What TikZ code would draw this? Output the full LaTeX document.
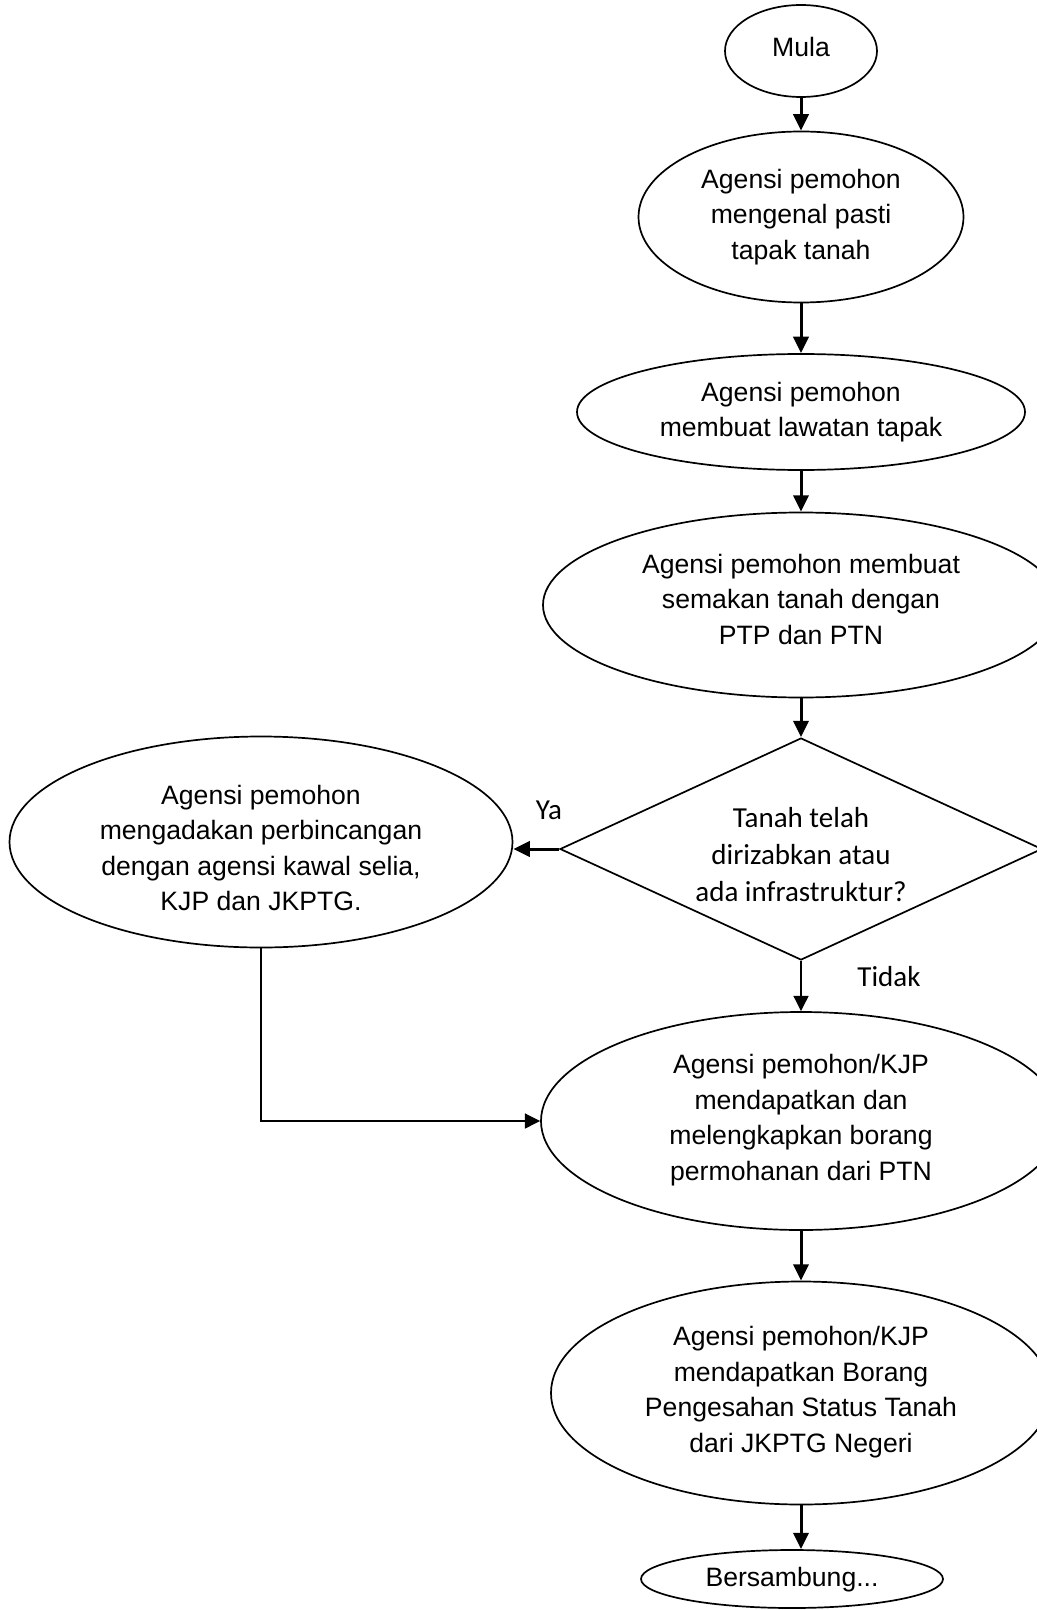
\documentclass[tikz,border=0pt]{standalone}
\usepackage{fontspec}
\setmainfont{Liberation Sans}
\newfontfamily\calfont{Carlito}
\usetikzlibrary{shapes.geometric,arrows.meta}
\begin{document}
\begin{tikzpicture}[x=0.5pt,y=-0.5pt,
  ell/.style={draw,ellipse,line width=0.85pt,inner sep=0pt},
  dia/.style={draw,diamond,line width=0.85pt,inner sep=0pt},
  txt/.style={align=center,font=\fontsize{13.3}{17.75}\selectfont,inner sep=0pt},
  ctxt/.style={align=center,font=\calfont\fontsize{14.5}{18.5}\selectfont,inner sep=0pt},
  arr/.style={line width=1.5pt,-{Triangle[length=8.2pt,width=7.6pt]}},
  thinarr/.style={line width=1pt,-{Triangle[length=7.6pt,width=7.4pt]}},
]
\useasboundingbox (0,0) rectangle (1037,1610);
\clip (0,0) rectangle (1037,1610);
\fill[white] (0,0) rectangle (1037,1610);

\node[ell,minimum width=76pt,minimum height=46pt] (mula) at (801,51) {};
\node[txt] (mulat) at (801,47) {Mula};

\node[ell,minimum width=162.5pt,minimum height=85.5pt] (e1) at (801,217) {};
\node[txt] (e1t) at (801,217) {Agensi pemohon\\mengenal pasti\\tapak tanah};

\node[ell,minimum width=224pt,minimum height=58pt] (e2) at (801,412) {};
\node[txt] (e2t) at (801,412) {Agensi pemohon\\membuat lawatan tapak};

\node[ell,minimum width=258pt,minimum height=92.5pt] (e3) at (801,605) {};
\node[txt] (e3t) at (801,599) {Agensi pemohon membuat\\semakan tanah dengan\\PTP dan PTN};

\node[dia,minimum width=241pt,minimum height=111pt] (d) at (801,849) {};
\node[ctxt] (dt) at (801,855) {Tanah telah\\dirizabkan atau\\ada infrastruktur?};

\node[ell,minimum width=251.5pt,minimum height=105.5pt] (L) at (261,842) {};
\node[txt] (Lt) at (261,848) {Agensi pemohon\\mengadakan perbincangan\\dengan agensi kawal selia,\\KJP dan JKPTG.};

\node[ell,minimum width=260pt,minimum height=109pt] (e4) at (801,1121) {};
\node[txt] (e4t) at (801,1120) {Agensi pemohon/KJP\\mendapatkan dan\\melengkapkan borang\\permohanan dari PTN};

\node[ell,minimum width=250pt,minimum height=111.5pt] (e5) at (801,1393) {};
\node[txt] (e5t) at (801,1392) {Agensi pemohon/KJP\\mendapatkan Borang\\Pengesahan Status Tanah\\dari JKPTG Negeri};

\node[ell,minimum width=151pt,minimum height=29pt] (end) at (792,1579) {};
\node[txt] (endt) at (792,1580) {Bersambung...};

\node[ctxt] (ya) at (549,810) {Ya};
\node[ctxt] (tidak) at (889,977) {Tidak};

\draw[arr] (mula) -- (e1);
\draw[arr] (e1) -- (e2);
\draw[arr] (e2) -- (e3);
\draw[arr] (e3) -- (d);
\draw[arr] (d.west) -- (d.west -| L.east);
\draw[thinarr] (d) -- (e4);
\draw[thinarr] (L.south) |- (e4.west);
\draw[arr] (e4) -- (e5);
\draw[arr] (e5.south) -- (e5.south |- end.north);
\end{tikzpicture}
\end{document}
